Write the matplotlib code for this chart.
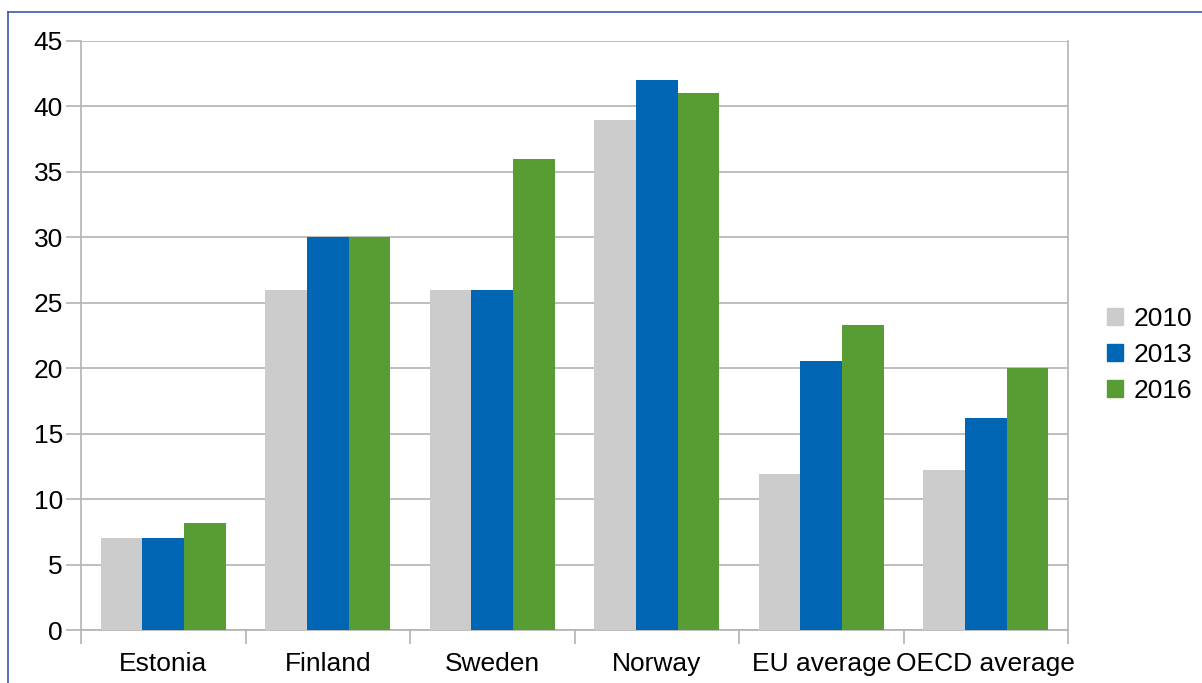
import matplotlib
matplotlib.use("Agg")
import matplotlib.pyplot as plt
import numpy as np
from matplotlib.lines import Line2D

categories = ["Estonia", "Finland", "Sweden", "Norway", "EU average", "OECD average"]
series_names = ["2010", "2013", "2016"]
v2010 = [7.0, 26.0, 26.0, 39.0, 11.9, 12.2]
v2013 = [7.0, 30.0, 26.0, 42.0, 20.55, 16.2]
v2016 = [8.2, 30.0, 36.0, 41.0, 23.3, 20.0]
colors = ["#cccccc", "#0066b3", "#579d34"]

plt.rcParams['font.family'] = ['Liberation Sans', 'DejaVu Sans']

fig = plt.figure(figsize=(12.02, 6.83), dpi=100)
ax = fig.add_axes([81/1202, 1-630/683, (1068-81)/1202, (630-41)/683])

x = np.arange(len(categories))
w = 0.76/3
for i, (vals, name, c) in enumerate(zip([v2010, v2013, v2016], series_names, colors)):
    ax.bar(x + (i-1)*w, vals, width=w, color=c, label=name, zorder=3)

ax.set_xlim(-0.5, len(categories)-0.5)
ax.set_ylim(0, 45)
ax.set_yticks(np.arange(0, 46, 5))
ax.yaxis.grid(True, color="#b3b3b3", linewidth=1.2, zorder=0)
ax.set_axisbelow(True)

ax.set_xticks(x)
ax.set_xticklabels(categories, fontsize=19)
ax.set_xticks(np.arange(-0.5, len(categories)), minor=True)
ax.tick_params(axis='x', which='major', length=0, pad=16)
ax.tick_params(axis='x', which='minor', length=10, color="#b3b3b3", width=1.2)
ax.tick_params(axis='y', length=11, color="#b3b3b3", width=1.2, labelsize=19, pad=2)

for s in ["left", "bottom", "right"]:
    ax.spines[s].set_color("#b3b3b3")
    ax.spines[s].set_linewidth(1.2)
ax.spines["top"].set_visible(False)

handles = [plt.Rectangle((0, 0), 1, 1, color=c) for c in colors]
fig.legend(handles, series_names, loc="center left", bbox_to_anchor=(1107/1202, 1-355/683),
           frameon=False, fontsize=19, handlelength=0.6, handleheight=0.6,
           handletextpad=0.4, labelspacing=0.45, borderaxespad=0, borderpad=0)

# outer frame
fig.add_artist(Line2D([8/1202, 1.0], [1-12/683, 1-12/683], transform=fig.transFigure,
                      color="#3a57b0", linewidth=1.2))
fig.add_artist(Line2D([8/1202, 8/1202], [0, 1-12/683], transform=fig.transFigure,
                      color="#3a57b0", linewidth=1.2))

fig.savefig("out.png", dpi=100)
